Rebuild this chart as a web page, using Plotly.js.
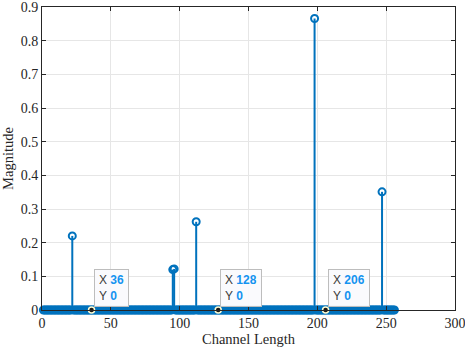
<!DOCTYPE html>
<html>
<head>
<meta charset="utf-8">
<script src="https://cdn.plot.ly/plotly-3.0.1.min.js"></script>
<style>
  html, body { margin: 0; padding: 0; background: #fff; }
  #chart { width: 465px; height: 349px; }
</style>
</head>
<body>
<div id="chart"></div>
<script>
// channel taps 1..256, all zero except a few peaks
var channelLength = 256;
var peakIndex = [22, 95, 96, 112, 198, 247];
var peakMagnitude = [0.22, 0.12, 0.122, 0.262, 0.866, 0.351];

// datatips shown on the plot
var tipX = [36, 128, 206];
var tipY = [0, 0, 0];

var stemColor = '#0072BD';
var tipValueColor = '#1493F0';
var serif = '"Liberation Serif", "Times New Roman", Times, serif';

function buildChannel() {
    var x = [], y = [];
    for (var n = 1; n <= channelLength; n++) {
        x.push(n);
        var k = peakIndex.indexOf(n);
        y.push(k >= 0 ? peakMagnitude[k] : 0);
    }
    return {x: x, y: y};
}

function drawStemChart() {
    var ch = buildChannel();
    var stems = {
        x: ch.x,
        y: ch.y,
        type: 'scatter',
        mode: 'markers',
        marker: {
            symbol: 'circle-open',
            size: 7,
            color: stemColor,
            line: {color: stemColor, width: 2}
        },
        error_y: {
            type: 'data',
            symmetric: false,
            array: ch.y.map(function () { return 0; }),
            arrayminus: ch.y,
            color: stemColor,
            thickness: 2,
            width: 0
        },
        cliponaxis: false,
        hoverinfo: 'skip',
        showlegend: false
    };
    var tips = {
        x: tipX,
        y: tipY,
        type: 'scatter',
        mode: 'markers',
        marker: {
            size: 6,
            color: '#1a1a1a',
            line: {color: '#fffbd0', width: 1.5}
        },
        cliponaxis: false,
        hoverinfo: 'skip',
        showlegend: false
    };
    var annotations = tipX.map(function (xv, i) {
        return {
            x: xv,
            y: tipY[i],
            xref: 'x',
            yref: 'y',
            xanchor: 'left',
            yanchor: 'bottom',
            xshift: 2,
            yshift: 3,
            showarrow: false,
            align: 'left',
            height: 28,
            text: 'X <b><span style="color:' + tipValueColor + '">' + xv + '</span></b><br>' +
                  'Y <b><span style="color:' + tipValueColor + '">' + tipY[i] + '</span></b>',
            font: {family: 'Liberation Sans, Arial, sans-serif', size: 12, color: '#3a3a3a'},
            bgcolor: 'rgba(250,250,253,0.96)',
            bordercolor: '#bdbdbd',
            borderwidth: 1,
            borderpad: 4
        };
    });
    var axisCommon = {
        showline: true,
        linecolor: '#262626',
        linewidth: 1,
        mirror: 'ticks',
        ticks: 'inside',
        ticklen: 4,
        tickcolor: '#262626',
        showgrid: true,
        gridcolor: '#e6e6e6',
        gridwidth: 1,
        zeroline: false,
        ticklabeloverflow: 'allow',
        tickfont: {family: serif, size: 14, color: '#262626'}
    };
    var layout = {
        width: 465,
        height: 349,
        margin: {l: 42, r: 10, t: 7, b: 39},
        paper_bgcolor: '#ffffff',
        plot_bgcolor: '#ffffff',
        font: {family: serif, size: 14, color: '#262626'},
        xaxis: Object.assign({}, axisCommon, {
            range: [0, 300],
            dtick: 50,
            tick0: 0,
            title: {text: 'Channel Length', standoff: 2,
                    font: {family: serif, size: 14.5, color: '#262626'}}
        }),
        yaxis: Object.assign({}, axisCommon, {
            range: [0, 0.90001],
            dtick: 0.1,
            tick0: 0,
            title: {text: 'Magnitude', standoff: 4,
                    font: {family: serif, size: 14.5, color: '#262626'}}
        }),
        annotations: annotations
    };
    Plotly.newPlot('chart', [stems, tips], layout, {staticPlot: true});
}

drawStemChart();
</script>
</body>
</html>
